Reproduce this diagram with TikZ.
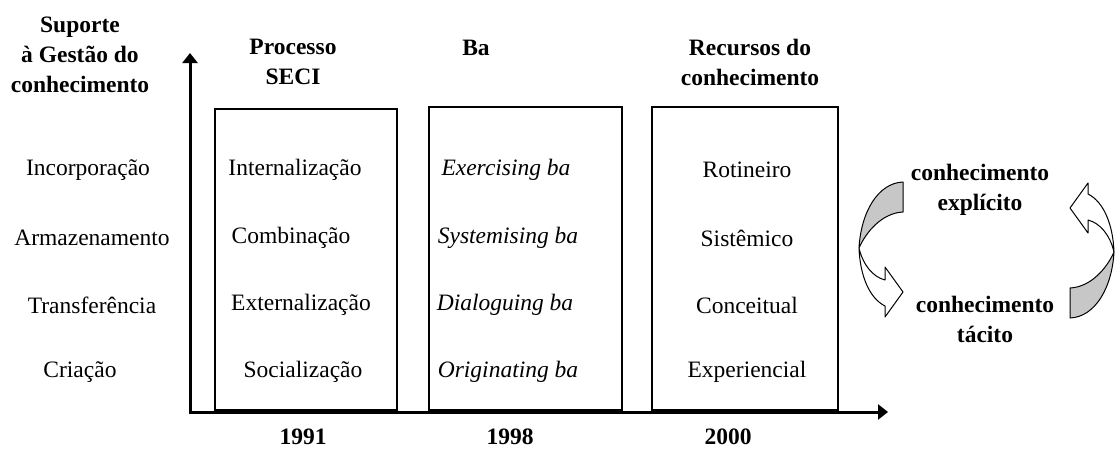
\documentclass[tikz,border=0pt]{standalone}
\usepackage{fontspec}
\setmainfont{Liberation Serif}
\usetikzlibrary{arrows.meta}

\begin{document}
\begin{tikzpicture}[
  x=1pt, y=-1pt,
  font=\fontsize{23.5}{30}\selectfont,
  lbl/.style={inner sep=0pt},
  hdr/.style={inner sep=0pt, align=center, font=\fontsize{23.5}{30}\selectfont\bfseries},
  baitem/.style={inner sep=0pt, font=\fontsize{23.5}{30}\selectfont\itshape},
  colbox/.style={line width=1.6pt},
  axis/.style={line width=3pt, {Triangle[length=10pt,width=15pt]}-{Triangle[length=10pt,width=15pt]}},
  band/.style={line width=1pt, fill=white, line join=round},
  backface/.style={line width=1pt, fill=black!22, line join=round}
]
  \useasboundingbox (0,0) rectangle (1116,450);

  % Boxes
  \draw[colbox] (215,109) rectangle (397,410);
  \draw[colbox] (429,107) rectangle (622,410);
  \draw[colbox] (652,107) rectangle (838,410);

  % Axes
  \coordinate (o) at (190,412);
  \coordinate (ytip) at (190,53);
  \coordinate (xtip) at (888,412);
  \draw[axis] (ytip) -- (o) -- (xtip);

  % Headers
  \node[hdr] (suporte) at (80,55) {Suporte\\à Gestão do\\conhecimento};
  \node[hdr] (seci) at (293,62) {Processo\\SECI};
  \node[hdr] (ba) at (476,48) {Ba};
  \node[hdr] (recursos) at (750,62) {Recursos do\\conhecimento};

  % Support levels
  \node[lbl] (incorp) at (88,170) {Incorporação};
  \node[lbl] (armaz) at (92,238) {Armazenamento};
  \node[lbl] (transf) at (92,305) {Transferência};
  \node[lbl] (criacao) at (80,372) {Criação};

  % SECI process
  \node[lbl] (intern) at (295,170) {Internalização};
  \node[lbl] (combin) at (291,238) {Combinação};
  \node[lbl] (extern) at (301,305) {Externalização};
  \node[lbl] (social) at (303,372) {Socialização};

  % Ba
  \node[baitem] (exerc) at (506,170) {Exercising ba};
  \node[baitem] (system) at (508,238) {Systemising ba};
  \node[baitem] (dialog) at (505,305) {Dialoguing ba};
  \node[baitem] (orig) at (508,372) {Originating ba};

  % Knowledge resources
  \node[lbl] (rotin) at (747,170) {Rotineiro};
  \node[lbl] (sistem) at (747,238) {Sistêmico};
  \node[lbl] (concei) at (747,305) {Conceitual};
  \node[lbl] (experi) at (747,372) {Experiencial};

  % Years
  \node[hdr] (y1991) at (303,437) {1991};
  \node[hdr] (y1998) at (510,437) {1998};
  \node[hdr] (y2000) at (728,437) {2000};

  % Knowledge types
  \node[hdr] (explicito) at (980,190) {conhecimento\\explícito};
  \node[hdr] (tacito) at (985,319) {conhecimento\\tácito};

  % Curved arrows (right one is the left one turned round)
  \foreach \ang in {0,180} {
    \begin{scope}[rotate around={\ang:(986.5,250)}]
      \coordinate (twist) at (859,248);
      \draw[backface] (903,182) .. controls (878,183) and (861,212) .. (twist)
        .. controls (866,232) and (882,213) .. (903,212) -- cycle;
      \draw[band] (twist) .. controls (860,275) and (869,298) .. (885,306)
        -- (885,317) -- (903,292) -- (885,267) -- (885,280)
        .. controls (873,277) and (863,265) .. (twist) -- cycle;
    \end{scope}
  }
\end{tikzpicture}
\end{document}
